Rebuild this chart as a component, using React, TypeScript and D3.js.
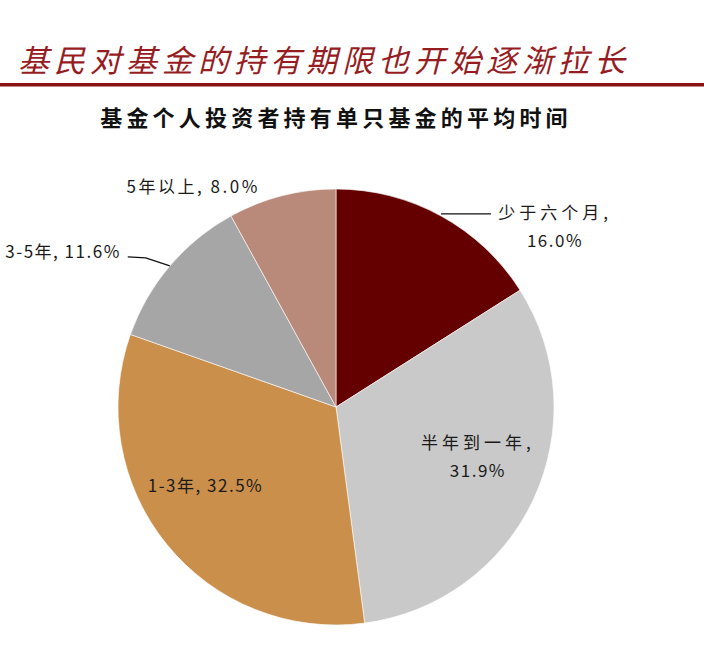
import React from "react";
import * as d3 from "d3";

const categories = ["少于六个月", "半年到一年", "1-3年", "3-5年", "5年以上"];
const values = [16.0, 31.9, 32.5, 11.6, 8.0];
const colors = ["#650000", "#c9c9c9", "#c98f4b", "#a6a6a6", "#b98979"];
const titleText = "基民对基金的持有期限也开始逐渐拉长";
const subtitleText = "基金个人投资者持有单只基金的平均时间";

const W = 704;
const H = 668;
const cx = 336;
const cy = 407;
const R = 218;

const fontCJK = "'Noto Sans CJK SC', 'Noto Sans', sans-serif";

export default function App() {
  const pie = d3
    .pie<number>()
    .sort(null)
    .value((d) => d)
    .startAngle(0)
    .endAngle(2 * Math.PI);
  const arcs = pie(values);
  const arc = d3.arc<d3.PieArcDatum<number>>().innerRadius(0).outerRadius(R);
  const labelArc = d3.arc<d3.PieArcDatum<number>>().innerRadius(150).outerRadius(150);

  const edge = (a: d3.PieArcDatum<number>) => {
    const m = (a.startAngle + a.endAngle) / 2;
    return [Math.sin(m) * R, -Math.cos(m) * R];
  };

  const fmt = (v: number) => v.toFixed(1) + "%";
  const ls = 1.5;

  const labels: React.ReactNode[] = [];
  arcs.forEach((a, i) => {
    const name = categories[i];
    const pct = fmt(a.data);
    if (i === 0) {
      const [ex, ey] = edge(a);
      const x2 = ex + 50;
      labels.push(
        <g key={i}>
          <line x1={ex} y1={ey - 2} x2={x2} y2={ey - 2} stroke="#111" strokeWidth={1.3} />
          <text x={x2 + 64} y={ey - 3} dy="0.35em" textAnchor="middle" letterSpacing={4} fontSize={17}>
            {name + ","}
          </text>
          <text x={x2 + 64} y={ey + 25} dy="0.35em" textAnchor="middle" letterSpacing={ls} fontSize={17}>
            {pct}
          </text>
        </g>
      );
    } else if (i === 1) {
      const [lx, ly] = labelArc.centroid(a);
      labels.push(
        <g key={i}>
          <text x={lx + 6} y={ly - 27} dy="0.35em" textAnchor="middle" letterSpacing={4} fontSize={17}>
            {name + ","}
          </text>
          <text x={lx + 6} y={ly + 1} dy="0.35em" textAnchor="middle" letterSpacing={ls} fontSize={17}>
            {pct}
          </text>
        </g>
      );
    } else if (i === 2) {
      const [lx, ly] = labelArc.centroid(a);
      labels.push(
        <text key={i} x={lx - 14} y={ly - 15} dy="0.35em" textAnchor="middle" letterSpacing={ls} fontSize={17}>
          {name + ", " + pct}
        </text>
      );
    } else if (i === 3) {
      const [ex, ey] = edge(a);
      const path = d3.path();
      path.moveTo(ex, ey);
      path.lineTo(ex - 24, ey - 8);
      path.lineTo(ex - 42, ey - 9);
      labels.push(
        <g key={i}>
          <path d={path.toString()} fill="none" stroke="#111" strokeWidth={1.3} />
          <text x={ex - 49} y={ey - 14} dy="0.35em" textAnchor="end" letterSpacing={ls} fontSize={17}>
            {name + ", " + pct}
          </text>
        </g>
      );
    } else {
      const [ex, ey] = edge(a);
      labels.push(
        <text key={i} x={ex - 22} y={ey - 9} dy="0.35em" textAnchor="end" letterSpacing={2.5} fontSize={17}>
          {name + ", " + pct}
        </text>
      );
    }
  });

  return (
    <svg
      width={W}
      height={H}
      style={{ position: "absolute", left: 0, top: 0, display: "block", background: "#fff" }}
      fontFamily={fontCJK}
    >
      <rect width={W} height={H} fill="#fff" />
      <text x={18} y={72} fontSize={31} fontStyle="italic" fill="#971c1f" letterSpacing={5}>
        {titleText}
      </text>
      <rect x={0} y={83} width={W} height={3.5} fill="#8a1212" />
      <text
        x={336}
        y={118}
        dy="0.35em"
        textAnchor="middle"
        fontSize={22}
        fontWeight="bold"
        fill="#111"
        letterSpacing={4.2}
      >
        {subtitleText}
      </text>
      <g transform={`translate(${cx},${cy})`}>
        {arcs.map((a, i) => (
          <path key={i} d={arc(a) || ""} fill={colors[i]} stroke="#fff" strokeWidth={0.6} />
        ))}
        <g fill="#1a1a1a">{labels}</g>
      </g>
    </svg>
  );
}
